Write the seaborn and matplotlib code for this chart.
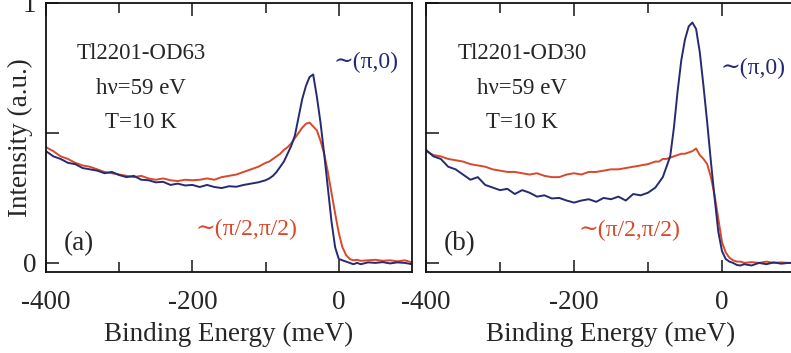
import numpy as np
import pandas as pd
import matplotlib
matplotlib.use("Agg")
import matplotlib.pyplot as plt
import seaborn as sns

# ---------------- data ----------------
energy = [-400, -390, -380, -370, -360, -350, -340, -330, -320, -310,
          -300, -290, -280, -270, -260, -250, -240, -230, -220, -210,
          -200, -190, -180, -170, -160, -150, -140, -130, -120, -110,
          -100, -95, -90, -85, -80, -75, -70, -65, -60, -55,
          -50, -45, -40, -35, -30, -25, -20, -15, -10, -5,
          0, 5, 10, 15, 20, 25, 30, 40, 50, 60,
          70, 80, 90, 100]

a_pi0 = [0.43, 0.41, 0.40, 0.385, 0.38, 0.365, 0.36, 0.355, 0.345, 0.35,
         0.338, 0.33, 0.335, 0.32, 0.318, 0.31, 0.312, 0.30, 0.305, 0.298,
         0.30, 0.292, 0.30, 0.292, 0.288, 0.295, 0.293, 0.30, 0.305, 0.31,
         0.318, 0.325, 0.335, 0.35, 0.37, 0.39, 0.42, 0.45, 0.49, 0.56,
         0.63, 0.68, 0.715, 0.725, 0.64, 0.54, 0.42, 0.29, 0.16, 0.06,
         0.015, 0.01, 0.005, 0.0, -0.005, 0.0, -0.005, 0.002, 0.0, 0.003,
         -0.002, 0.002, 0.0, -0.005]

a_nodal = [0.445, 0.43, 0.41, 0.40, 0.385, 0.375, 0.37, 0.36, 0.35, 0.345,
           0.34, 0.335, 0.33, 0.335, 0.325, 0.32, 0.325, 0.318, 0.315, 0.32,
           0.318, 0.32, 0.325, 0.32, 0.33, 0.335, 0.34, 0.35, 0.36, 0.37,
           0.385, 0.39, 0.40, 0.41, 0.42, 0.435, 0.445, 0.46, 0.48, 0.50,
           0.52, 0.535, 0.54, 0.525, 0.51, 0.47, 0.42, 0.35, 0.27, 0.19,
           0.115, 0.06, 0.03, 0.015, 0.01, 0.012, 0.008, 0.01, 0.012, 0.008,
           0.01, 0.006, 0.01, 0.002]

b_pi0 = [0.435, 0.41, 0.40, 0.37, 0.36, 0.34, 0.32, 0.33, 0.30, 0.29,
         0.28, 0.285, 0.265, 0.28, 0.27, 0.255, 0.26, 0.248, 0.25, 0.24,
         0.232, 0.24, 0.245, 0.235, 0.25, 0.245, 0.255, 0.24, 0.265, 0.26,
         0.27, 0.28, 0.29, 0.31, 0.33, 0.37, 0.41, 0.52, 0.66, 0.78,
         0.86, 0.91, 0.925, 0.90, 0.81, 0.68, 0.54, 0.39, 0.25, 0.12,
         0.045, 0.015, 0.005, 0.0, -0.008, -0.01, -0.005, -0.01, 0.0, -0.005,
         0.002, -0.003, 0.0, 0.0]

b_nodal = [0.43, 0.415, 0.41, 0.40, 0.395, 0.39, 0.38, 0.375, 0.37, 0.36,
           0.355, 0.35, 0.35, 0.345, 0.34, 0.345, 0.335, 0.33, 0.33, 0.34,
           0.345, 0.34, 0.35, 0.35, 0.355, 0.36, 0.36, 0.365, 0.37, 0.375,
           0.38, 0.385, 0.39, 0.39, 0.40, 0.40, 0.405, 0.41, 0.415, 0.42,
           0.42, 0.425, 0.43, 0.44, 0.415, 0.40, 0.38, 0.33, 0.26, 0.17,
           0.08, 0.04, 0.02, 0.01, 0.005, 0.005, 0.0, 0.003, 0.0, 0.005,
           0.0, 0.002, 0.0, 0.0]

samples = ["Tl2201-OD63", "Tl2201-OD30"]
panel_tags = ["(a)", "(b)"]
series_names = ["∼(π,0)", "∼(π/2,π/2)"]
x_ticks = [-400, -200, 0]
x_tick_labels = ["-400", "-200", "0"]

BLUE = "#262a72"
RED = "#d9482b"

# ---------------- figure ----------------
sns.set_style("ticks")
plt.rcParams["font.family"] = ["Liberation Serif", "DejaVu Serif"]

fig = plt.figure(figsize=(7.91, 3.53), dpi=100)
W, H = 791.0, 353.0
axA = fig.add_axes([46 / W, (H - 272) / H, (412 - 46) / W, (272 - 3) / H])
axB = fig.add_axes([426 / W, (H - 272) / H, (796 - 426) / W, (272 - 3) / H])

panels = [(axA, a_pi0, a_nodal), (axB, b_pi0, b_nodal)]
for i, (ax, pi0, nodal) in enumerate(panels):
    df = pd.DataFrame({
        "E": energy * 2,
        "I": list(pi0) + list(nodal),
        "k": [series_names[0]] * len(energy) + [series_names[1]] * len(energy),
    })
    sns.lineplot(data=df, x="E", y="I", hue="k", ax=ax,
                 palette={series_names[0]: BLUE, series_names[1]: RED},
                 hue_order=[series_names[1], series_names[0]],
                 linewidth=1.4, legend=False, sort=False)
    ax.set_xlim(-400, 100)
    ax.set_ylim(-0.035, 1.0)
    ax.set_xticks(x_ticks)
    ax.set_xticklabels(x_tick_labels)
    ax.set_xticks([-300, -100], minor=True)
    ax.tick_params(axis="x", which="both", direction="in", top=True,
                   bottom=True, width=1.2, labelsize=19.5, pad=13)
    ax.tick_params(axis="x", which="major", length=9)
    ax.tick_params(axis="x", which="minor", length=7)
    ax.set_yticks([0, 0.5, 1.0])
    if i == 0:
        ax.set_yticklabels(["0", "", "1"])
        ax.set_ylabel("Intensity (a.u.)", fontsize=19.5)
        ax.yaxis.set_label_coords(-0.035, 0.5)
    else:
        ax.set_yticklabels(["", "", ""])
        ax.set_ylabel("")
    ax.tick_params(axis="y", direction="in", length=9, width=1.2,
                   labelsize=19.5, pad=7)
    ax.set_xlabel("Binding Energy (meV)", fontsize=19.5, labelpad=5)
    for s in ax.spines.values():
        s.set_linewidth(1.3)
        s.set_color("#111111")
    ax.set_facecolor("white")

    ax.text(-270, 0.805, samples[i], ha="center", va="center", fontsize=16.5)
    ax.text(-270, 0.67, "hν=59 eV", ha="center", va="center", fontsize=16.5)
    ax.text(-270, 0.54, "T=10 K", ha="center", va="center", fontsize=16.5)
    ax.text(-355, 0.075, panel_tags[i], ha="center", va="center", fontsize=19.5)

axA.text(37, 0.77, series_names[0], ha="center", va="center", fontsize=17, color=BLUE)
axA.text(-126, 0.127, series_names[1], ha="center", va="center", fontsize=17, color=RED)
axB.text(42, 0.75, series_names[0], ha="center", va="center", fontsize=17, color=BLUE)
axB.text(-125, 0.125, series_names[1], ha="center", va="center", fontsize=17, color=RED)

fig.savefig("out.png", dpi=100, facecolor="white")
